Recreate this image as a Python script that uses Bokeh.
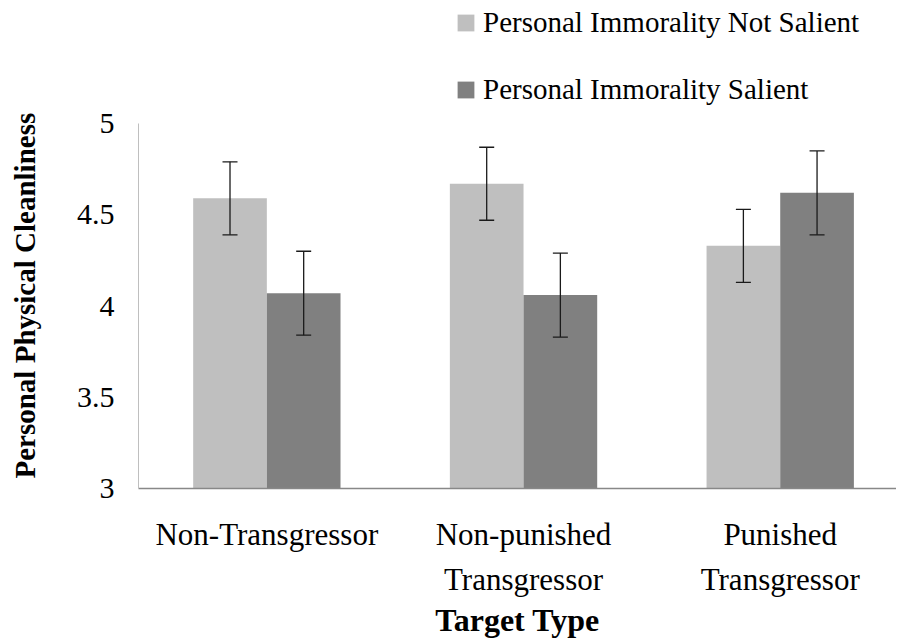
from bokeh.plotting import figure
from bokeh.models import Range1d, FixedTicker, Whisker, ColumnDataSource, Legend, LegendItem, Title
from bokeh.embed import file_html
from bokeh.resources import INLINE

# ---- data ----
categories = ["Non-Transgressor", "Non-punished\nTransgressor", "Punished\nTransgressor"]
series_names = ["Personal Immorality Not Salient", "Personal Immorality Salient"]
not_salient = [4.59, 4.67, 4.33]
not_salient_err = [0.20, 0.20, 0.20]
salient = [4.07, 4.06, 4.62]
salient_err = [0.23, 0.23, 0.23]
y_ticks = [3, 3.5, 4, 4.5, 5]
y_tick_labels = ["3", "3.5", "4", "4.5", "5"]
colors = ["#BFBFBF", "#808080"]

FONT = "Liberation Serif"
bar_w = 0.287
centers = [i + 0.5 for i in range(len(categories))]
y_min, y_max = y_ticks[0], y_ticks[-1]

p = figure(width=896, height=642, output_backend="svg", toolbar_location=None,
           x_range=Range1d(0, 2.953), y_range=Range1d(y_min, 5.674),
           min_border_left=138, min_border_top=0, min_border_right=0,
           min_border_bottom=154)
p.outline_line_color = None
p.xgrid.visible = False
p.ygrid.visible = False
p.background_fill_color = "white"

renderers = []
for k, (vals, errs) in enumerate([(not_salient, not_salient_err), (salient, salient_err)]):
    sign = -1 if k == 0 else 1
    xs = [c + sign * bar_w / 2 for c in centers]
    src = ColumnDataSource(dict(x=xs, top=vals,
                                upper=[v + e for v, e in zip(vals, errs)],
                                lower=[v - e for v, e in zip(vals, errs)]))
    r = p.vbar(x="x", top="top", bottom=y_min, width=bar_w, source=src,
               fill_color=colors[k], line_color=None)
    renderers.append(r)
    w = Whisker(base="x", upper="upper", lower="lower", source=src,
                line_color="#1a1a1a", line_width=1.3, level="overlay")
    w.upper_head.size = 15
    w.lower_head.size = 15
    w.upper_head.line_color = "#1a1a1a"
    w.lower_head.line_color = "#1a1a1a"
    w.upper_head.line_width = 1.3
    w.lower_head.line_width = 1.3
    p.add_layout(w)

# y axis
p.yaxis.ticker = FixedTicker(ticks=y_ticks)
p.yaxis.bounds = (y_min, y_max)
p.yaxis.major_label_overrides = {t: l for t, l in zip(y_ticks, y_tick_labels)}
p.yaxis.major_tick_line_color = None
p.yaxis.minor_tick_line_color = None
p.yaxis.axis_line_color = "#BFBFBF"
p.yaxis.major_label_text_font = FONT
p.yaxis.major_label_text_font_size = "30px"
p.yaxis.major_label_text_color = "black"
p.yaxis.major_label_standoff = 18
# spacer between tick labels and the axis title
p.yaxis.axis_label = " "
p.yaxis.axis_label_text_font_size = "1px"
p.yaxis.axis_label_standoff = 24

ytitle = Title(text="Personal Physical Cleanliness", align="left", offset=10,
               text_font=FONT, text_font_size="29px", text_font_style="bold",
               text_color="black", standoff=10)
p.add_layout(ytitle, "left")

# x axis
p.xaxis.ticker = FixedTicker(ticks=centers)
p.xaxis.major_label_overrides = {c: l for c, l in zip(centers, categories)}
p.xaxis.major_tick_line_color = None
p.xaxis.minor_tick_line_color = None
p.xaxis.axis_line_color = "#888888"
p.xaxis.axis_line_width = 1.5
p.xaxis.major_label_text_font = FONT
p.xaxis.major_label_text_font_size = "31px"
p.xaxis.major_label_text_color = "black"
p.xaxis.major_label_text_line_height = 1.3
p.xaxis.major_label_standoff = 22
p.xaxis.axis_label = "Target Type"
p.xaxis.axis_label_text_font = FONT
p.xaxis.axis_label_text_font_size = "32px"
p.xaxis.axis_label_text_font_style = "bold"
p.xaxis.axis_label_text_color = "black"
p.xaxis.axis_label_standoff = 2

legend = Legend(items=[LegendItem(label=series_names[i], renderers=[renderers[i]]) for i in range(2)],
                location=(317, 382), orientation="vertical",
                glyph_width=21, glyph_height=21, label_standoff=7,
                label_text_font=FONT, label_text_font_size="29px",
                label_text_color="black", spacing=34, padding=0, margin=0,
                border_line_color=None, background_fill_alpha=0)
p.add_layout(legend)

open("out.html", "w").write(file_html(p, INLINE))
